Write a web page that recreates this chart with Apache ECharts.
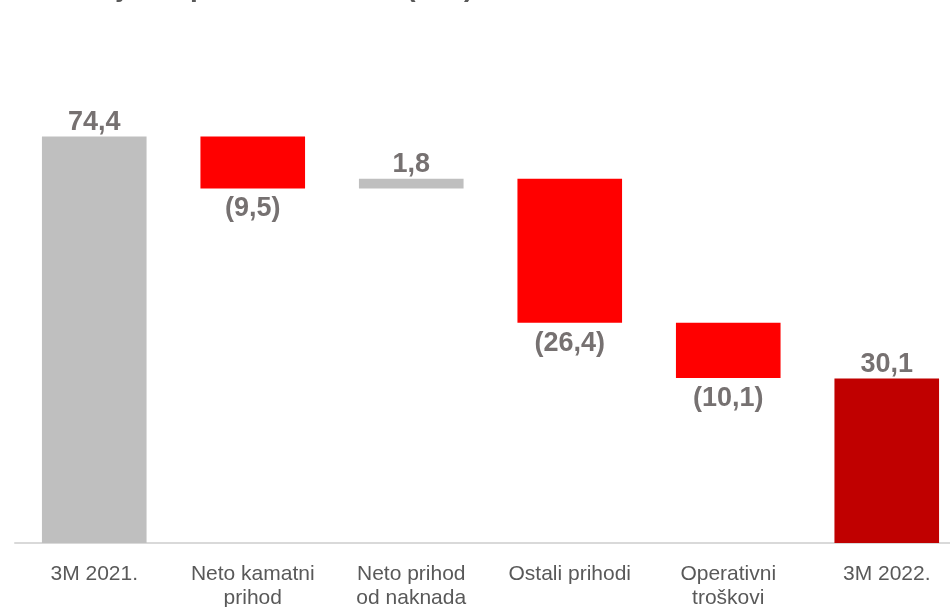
<!DOCTYPE html>
<html>
<head>
<meta charset="utf-8">
<script src="https://cdn.jsdelivr.net/npm/echarts@6/dist/echarts.min.js"></script>
<style>html,body{margin:0;padding:0;background:#fff;}#c{width:950px;height:607px;}</style>
</head>
<body>
<div id="c"></div>
<script>
const titleText = 'Ključni pokretači dobiti (mil.)';
const categories = ['3M 2021.', 'Neto kamatni\nprihod', 'Neto prihod\nod naknada', 'Ostali prihodi', 'Operativni\ntroškovi', '3M 2022.'];
const values = [74.4, -9.5, 1.8, -26.4, -10.1, 30.1];
const kinds = ['total', 'delta', 'delta', 'delta', 'delta', 'total'];
const yMin = 0, yMax = 80;

const colors = { totalStart: '#bfbfbf', up: '#bfbfbf', down: '#ff0000', totalEnd: '#c00000' };

// build waterfall base + visible parts
const base = [], visible = [];
let run = 0;
values.forEach((v, i) => {
  if (kinds[i] === 'total') {
    base.push(0); visible.push(v); run = v;
  } else if (v >= 0) {
    base.push(run); visible.push(v); run += v;
  } else {
    run += v; base.push(run); visible.push(-v);
  }
});

function fmt(v) {
  const s = Math.abs(v).toFixed(1).replace('.', ',');
  return v < 0 ? '(' + s + ')' : s;
}

const barData = visible.map((v, i) => {
  const neg = values[i] < 0;
  let color;
  if (kinds[i] === 'total') color = i === 0 ? colors.totalStart : colors.totalEnd;
  else color = neg ? colors.down : colors.up;
  return {
    value: v,
    itemStyle: { color: color },
    label: {
      show: true,
      position: neg ? 'bottom' : 'top',
      distance: neg ? 7 : 1,
      formatter: fmt(values[i])
    }
  };
});

const chart = echarts.init(document.getElementById('c'), null, { renderer: 'canvas' });
chart.setOption({
  animation: false,
  backgroundColor: '#ffffff',
  title: {
    text: titleText,
    left: 84,
    top: -31,
    textStyle: { fontFamily: 'Liberation Sans, Arial, sans-serif', fontSize: 28, fontWeight: 'bold', color: '#595959' }
  },
  grid: { left: 15, width: 951, top: 106, bottom: 64, containLabel: false, outerBoundsMode: 'none' },
  xAxis: {
    type: 'category',
    data: categories,
    axisLine: { show: true, lineStyle: { color: '#d9d9d9', width: 2 } },
    axisTick: { show: false },
    axisLabel: {
      interval: 0,
      margin: 19,
      color: '#595959',
      fontFamily: 'Liberation Sans, Arial, sans-serif',
      fontSize: 21,
      lineHeight: 24
    }
  },
  yAxis: {
    type: 'value',
    min: yMin,
    max: yMax,
    show: false,
    splitLine: { show: false }
  },
  series: [
    {
      type: 'bar',
      stack: 'wf',
      data: base,
      itemStyle: { color: 'transparent' },
      emphasis: { disabled: true },
      barCategoryGap: '34%',
      silent: true
    },
    {
      type: 'bar',
      stack: 'wf',
      data: barData,
      barCategoryGap: '34%',
      label: {
        show: true,
        color: '#767171',
        fontFamily: 'Liberation Sans, Arial, sans-serif',
        fontSize: 27,
        fontWeight: 'bold'
      }
    }
  ]
});
</script>
</body>
</html>
